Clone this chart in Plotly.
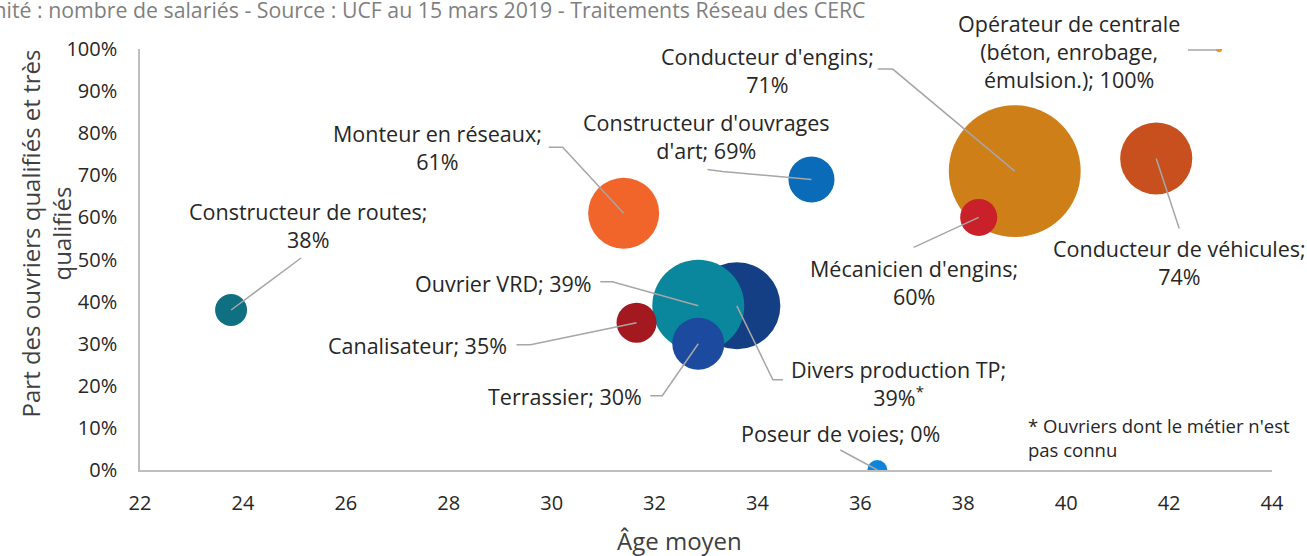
import plotly.graph_objects as go

# Métiers, âge moyen, part des ouvriers qualifiés et très qualifiés, effectif
metiers = [
    "Constructeur de routes", "Monteur en réseaux", "Constructeur d'ouvrages d'art",
    "Conducteur d'engins", "Conducteur de véhicules", "Mécanicien d'engins",
    "Opérateur de centrale (béton, enrobage, émulsion.)", "Divers production TP",
    "Ouvrier VRD", "Canalisateur", "Terrassier", "Poseur de voies",
]
age_moyen = [23.77, 31.40, 35.05, 39.00, 41.75, 38.30, 42.97, 33.60, 32.85, 31.65, 32.85, 36.33]
part_qualifies = [0.38, 0.61, 0.69, 0.71, 0.74, 0.60, 1.00, 0.39, 0.39, 0.35, 0.30, 0.00]
effectif = [1020, 5040, 2120, 17400, 5200, 1370, 40, 7570, 8460, 1600, 2700, 400]

couleurs = ["#0e7080", "#f2652a", "#0a6cb8", "#cf7f17", "#c8501f", "#c9202a",
            "#f7941d", "#143f85", "#0a879c", "#a3191f", "#1b4a9e", "#0b86dc"]

# Libellés affichés près des bulles
libelles = [
    "Constructeur de routes;<br>38%",
    "Monteur en réseaux;<br>61%",
    "Constructeur d'ouvrages<br>d'art; 69%",
    "Conducteur d'engins;<br>71%",
    "Conducteur de véhicules;<br>74%",
    "Mécanicien d'engins;<br>60%",
    "Opérateur de centrale<br>(béton, enrobage,<br>émulsion.); 100%",
    "Divers production TP;<br>39%<sup>*</sup>",
    "Ouvrier VRD; 39%",
    "Canalisateur; 35%",
    "Terrassier; 30%",
    "Poseur de voies; 0%",
]
# décalage du libellé (px, vers la droite / vers le haut)
decal_libelle = [(77, 85), (-186, 66), (-105, 43), (-247, 101), (23, -104), (-65, -65),
                 (-150, -2), (162, -78), (-195, 22), (-219, -23), (-133, -53), (-37, 37)]
# tracé des traits de rappel (px relatifs au centre de la bulle)
traits = [
    [(70, 52), (0, 0)],
    [(-75, 66), (-61, 66), (0, 0)],
    [(-104, 10), (-89, 8), (0, 0)],
    [(-137, 102), (-122, 102), (0, 0)],
    [(23, -70), (0, 0)],
    [(-65, -30), (0, 0)],
    [(-31, -1), (-1, -1)],
    [(46, -74), (36, -74), (0, 0)],
    [(-98, 24), (-86, 24), (0, 0)],
    [(-120, -22), (-106, -22), (0, 0)],
    [(-48, -52), (-36, -52), (0, 0)],
    [(-37, 20), (0, 0)],
]

police = "Open Sans"
gris_texte = "#262626"

fig = go.Figure()
fig.add_trace(go.Scatter(
    x=age_moyen, y=part_qualifies, mode="markers",
    marker=dict(size=effectif, sizemode="area", sizeref=2, color=couleurs,
                line=dict(width=0), opacity=1),
    hovertext=metiers, hoverinfo="text", showlegend=False,
))

shapes = []
annotations = []
for x, y, txt, (dx, dy), pts in zip(age_moyen, part_qualifies, libelles, decal_libelle, traits):
    path = "M " + " L ".join(f"{px},{py}" for px, py in pts)
    shapes.append(dict(type="path", xref="x", yref="y", xsizemode="pixel", ysizemode="pixel",
                       xanchor=x, yanchor=y, path=path,
                       line=dict(color="#a6a6a6", width=1.5), layer="above"))
    annotations.append(dict(x=x, y=y, xref="x", yref="y", text=txt, showarrow=False,
                            xshift=dx, yshift=dy, align="center",
                            font=dict(family=police, size=21.5, color=gris_texte)))

# Titres et notes
annotations += [
    dict(xref="paper", yref="paper", x=0.477, y=-0.168, text="Âge moyen", showarrow=False,
         font=dict(family=police, size=24, color="#404040"), yanchor="middle"),
    dict(xref="paper", yref="paper", x=-0.0835, y=0.563,
         text="Part des ouvriers qualifiés et très<br>qualifiés", showarrow=False,
         textangle=-90, align="center", xanchor="center", yanchor="middle",
         font=dict(family=police, size=24, color="#404040")),
    dict(xref="paper", yref="paper", x=0.643, y=1.093, xanchor="right", yanchor="middle",
         text="Unité : nombre de salariés - Source : UCF au 15 mars 2019 - Traitements Réseau des CERC",
         showarrow=False, font=dict(family=police, size=21.3, color="#7f7f7f")),
    dict(xref="paper", yref="paper", x=0.783, y=0.078, xanchor="left", yanchor="middle",
         text="* Ouvriers dont le métier n'est<br>pas connu", align="left", showarrow=False,
         font=dict(family=police, size=18.5, color=gris_texte)),
]

fig.update_layout(
    width=1307, height=556,
    margin=dict(l=140, r=35, t=49, b=86),
    paper_bgcolor="white", plot_bgcolor="white",
    shapes=shapes, annotations=annotations,
    xaxis=dict(range=[22, 44], dtick=2, tick0=22, showgrid=False, zeroline=False,
               showline=True, linecolor="#bfbfbf", linewidth=1.5, ticks="",
               ticklabelstandoff=14,
               tickfont=dict(family=police, size=20, color=gris_texte)),
    yaxis=dict(range=[0, 1], dtick=0.1, tickformat=".0%", showgrid=False, zeroline=False,
               showline=True, linecolor="#bfbfbf", linewidth=1.5, ticks="",
               ticklabelstandoff=17,
               tickfont=dict(family=police, size=20, color=gris_texte)),
)

fig.write_html("out.html")
